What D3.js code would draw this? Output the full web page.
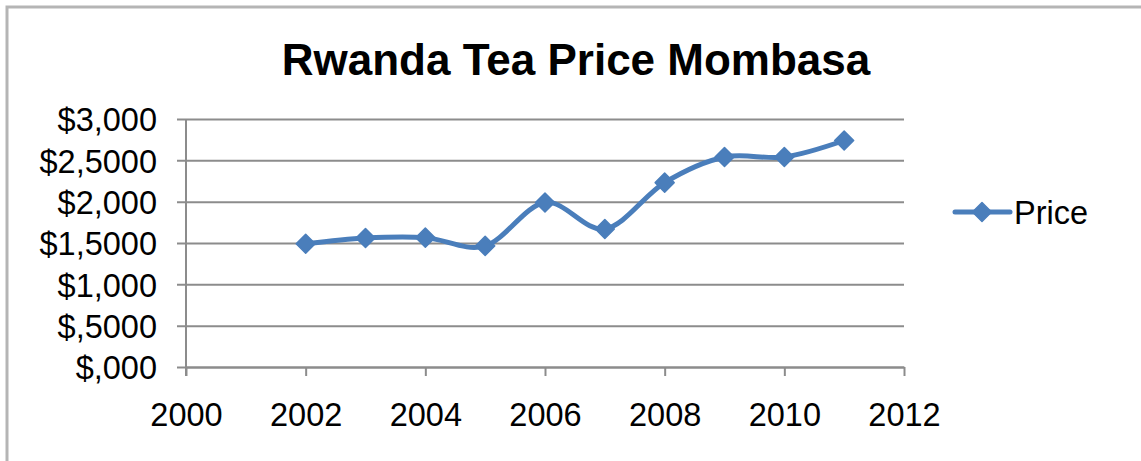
<!DOCTYPE html>
<html>
<head>
<meta charset="utf-8">
<script src="https://cdn.jsdelivr.net/npm/d3@7"></script>
<style>
  html, body { margin: 0; padding: 0; background: #fff; }
  svg { display: block; font-family: "Liberation Sans", Arial, sans-serif; }
</style>
</head>
<body>
<svg id="chart" width="1141" height="461"></svg>
<script>
const title = "Rwanda Tea Price Mombasa";
const seriesName = "Price";
const years = [2002, 2003, 2004, 2005, 2006, 2007, 2008, 2009, 2010, 2011];
const prices = [1490, 1560, 1565, 1465, 1990, 1670, 2230, 2540, 2540, 2740];
const yTickValues = [0, 500, 1000, 1500, 2000, 2500, 3000];
const yTickLabels = ["$,000", "$,5000", "$1,000", "$1,5000", "$2,000", "$2,5000", "$3,000"];
const xTickValues = [2000, 2002, 2004, 2006, 2008, 2010, 2012];
const xTickLabels = ["2000", "2002", "2004", "2006", "2008", "2010", "2012"];

const svg = d3.select("#chart");
const W = 1141, H = 461;
svg.append("rect").attr("width", W).attr("height", H).attr("fill", "#fff");

// outer chart border (only top/left visible)
svg.append("rect").attr("x", 7).attr("y", 7).attr("width", 1300).attr("height", 600)
  .attr("fill", "none").attr("stroke", "#b5b5b5").attr("stroke-width", 3);

const x = d3.scaleLinear().domain([2000, 2012]).range([186, 904]);
const y = d3.scaleLinear().domain([0, 3000]).range([367, 119]);

const gridColor = "#8c8c8c";
const tickFont = 32.5;

// title
svg.append("text").attr("x", 576).attr("y", 75).attr("text-anchor", "middle")
  .attr("font-weight", "bold").attr("font-size", 44).attr("fill", "#000").text(title);

// y axis with gridlines
const yAxis = d3.axisLeft(y).tickValues(yTickValues)
  .tickFormat((d, i) => yTickLabels[i]).tickSize(-(904 - 186)).tickSizeOuter(0).tickPadding(0);
const gy = svg.append("g").attr("transform", "translate(186,0)").call(yAxis);
gy.select(".domain").remove();
gy.selectAll(".tick line").attr("x1", -9).attr("stroke", gridColor).attr("stroke-width", 2);
gy.selectAll(".tick text").attr("x", -29).attr("dy", "0.36em")
  .attr("font-size", tickFont).attr("fill", "#000").attr("font-family", "Liberation Sans, Arial, sans-serif");
svg.append("line").attr("x1", 186).attr("x2", 186).attr("y1", y(3000)).attr("y2", 376)
  .attr("stroke", gridColor).attr("stroke-width", 2);

// x axis
const xAxis = d3.axisBottom(x).tickValues(xTickValues)
  .tickFormat((d, i) => xTickLabels[i]).tickSize(9).tickSizeOuter(0).tickPadding(0);
const gx = svg.append("g").attr("transform", "translate(0,367)").call(xAxis);
gx.select(".domain").attr("stroke", gridColor).attr("stroke-width", 2);
gx.selectAll(".tick line").attr("stroke", gridColor).attr("stroke-width", 2);
gx.selectAll(".tick text").attr("y", 48).attr("dy", "0.35em")
  .attr("font-size", tickFont).attr("fill", "#000").attr("font-family", "Liberation Sans, Arial, sans-serif");

// line
const data = years.map((yr, i) => ({ yr, v: prices[i] }));
const lineColor = "#4a7ebb";
const line = d3.line().x(d => x(d.yr)).y(d => y(d.v)).curve(d3.curveCardinal.tension(0));
svg.append("path").datum(data).attr("d", line).attr("fill", "none")
  .attr("stroke", lineColor).attr("stroke-width", 5).attr("stroke-linejoin", "round").attr("stroke-linecap", "round");

const diamond = (cx, cy, r) => `M${cx},${cy - r}L${cx + r},${cy}L${cx},${cy + r}L${cx - r},${cy}Z`;
svg.append("g").selectAll("path").data(data).join("path")
  .attr("d", d => diamond(x(d.yr), y(d.v), 9.5))
  .attr("fill", lineColor).attr("stroke", lineColor).attr("stroke-width", 1.5).attr("stroke-linejoin", "round");

// legend
const ly = 212;
svg.append("line").attr("x1", 955).attr("x2", 1010).attr("y1", ly).attr("y2", ly)
  .attr("stroke", lineColor).attr("stroke-width", 5).attr("stroke-linecap", "round");
svg.append("path").attr("d", diamond(982, ly, 9.5)).attr("fill", lineColor)
  .attr("stroke", lineColor).attr("stroke-width", 1.5).attr("stroke-linejoin", "round");
svg.append("text").attr("x", 1014).attr("y", ly).attr("dy", "0.36em")
  .attr("font-size", tickFont).attr("fill", "#000").text(seriesName);
</script>
</body>
</html>
